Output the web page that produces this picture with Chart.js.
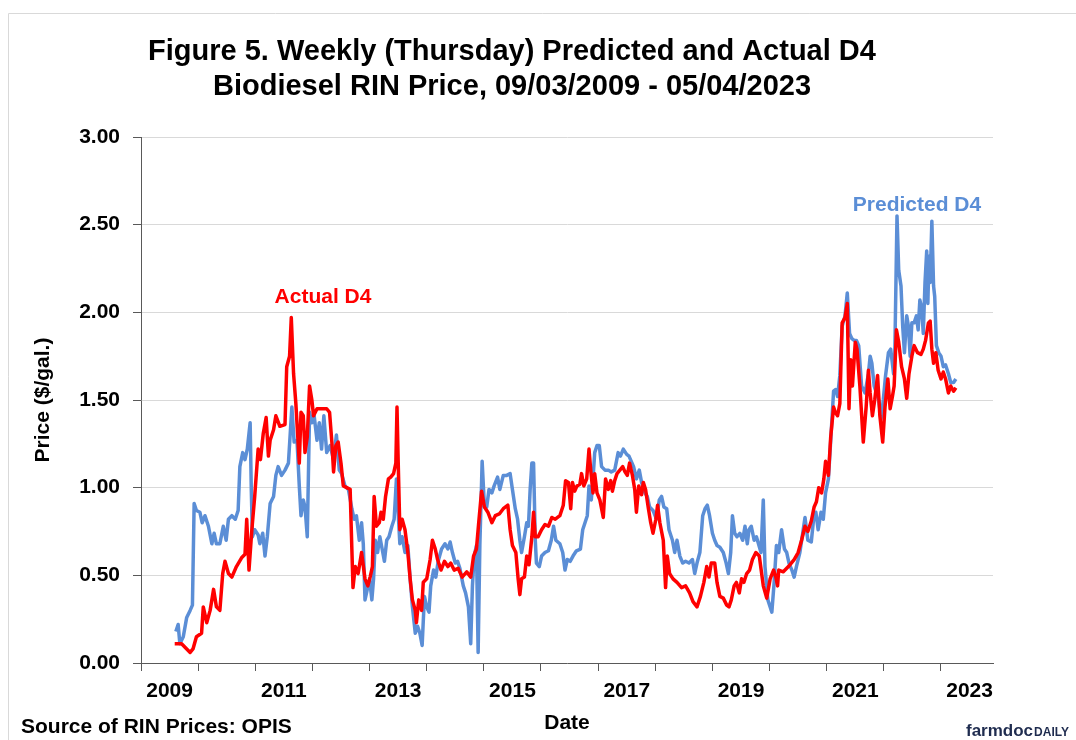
<!DOCTYPE html>
<html>
<head>
<meta charset="utf-8">
<title>D4 Biodiesel RIN Price</title>
<script src="https://cdn.jsdelivr.net/npm/chart.js@4.4.1/dist/chart.umd.min.js"></script>
<style>
    body { margin: 0; background: #ffffff; }
    canvas { display: block; }
</style>
</head>
<body>
<canvas id="rinChart" width="1076" height="740"></canvas>
<script>
// Actual D4 RIN price (weekly; x = decimal year)
const actualYears = [
    2009.67, 2009.79, 2009.85, 2009.94, 2009.99, 2010.05, 2010.14, 2010.17, 2010.23, 2010.29,
    2010.35, 2010.40, 2010.46, 2010.51, 2010.55, 2010.61, 2010.67, 2010.75, 2010.84, 2010.90,
    2010.93, 2010.97, 2011.02, 2011.07, 2011.13, 2011.17, 2011.22, 2011.27, 2011.31, 2011.34,
    2011.40, 2011.44, 2011.51, 2011.60, 2011.63, 2011.68, 2011.71, 2011.75, 2011.79, 2011.82,
    2011.85, 2011.88, 2011.92, 2011.95, 2011.99, 2012.03, 2012.07, 2012.10, 2012.16, 2012.24,
    2012.33, 2012.38, 2012.42, 2012.45, 2012.49, 2012.53, 2012.58, 2012.62, 2012.68, 2012.74,
    2012.77, 2012.79, 2012.83, 2012.88, 2012.94, 2013.00, 2013.05, 2013.09, 2013.13, 2013.16,
    2013.20, 2013.25, 2013.28, 2013.32, 2013.36, 2013.41, 2013.45, 2013.50, 2013.54, 2013.56,
    2013.58, 2013.61, 2013.65, 2013.70, 2013.75, 2013.79, 2013.83, 2013.88, 2013.90, 2013.94,
    2013.99, 2014.02, 2014.08, 2014.14, 2014.18, 2014.23, 2014.27, 2014.33, 2014.39, 2014.45,
    2014.50, 2014.56, 2014.63, 2014.70, 2014.78, 2014.85, 2014.90, 2014.95, 2014.99, 2015.04,
    2015.09, 2015.15, 2015.22, 2015.28, 2015.35, 2015.42, 2015.50, 2015.54, 2015.58, 2015.64,
    2015.68, 2015.71, 2015.74, 2015.79, 2015.83, 2015.87, 2015.92, 2015.95, 2015.98, 2016.03,
    2016.09, 2016.15, 2016.21, 2016.27, 2016.33, 2016.41, 2016.47, 2016.51, 2016.56, 2016.60,
    2016.63, 2016.67, 2016.71, 2016.76, 2016.79, 2016.83, 2016.88, 2016.92, 2016.95, 2016.99,
    2017.02, 2017.06, 2017.11, 2017.17, 2017.21, 2017.26, 2017.30, 2017.33, 2017.37, 2017.41,
    2017.46, 2017.51, 2017.55, 2017.59, 2017.63, 2017.68, 2017.72, 2017.75, 2017.79, 2017.84,
    2017.87, 2017.91, 2017.96, 2018.00, 2018.04, 2018.09, 2018.12, 2018.16, 2018.22, 2018.26,
    2018.29, 2018.33, 2018.39, 2018.46, 2018.54, 2018.61, 2018.68, 2018.74, 2018.81, 2018.87,
    2018.93, 2018.98, 2019.02, 2019.06, 2019.12, 2019.16, 2019.21, 2019.27, 2019.33, 2019.37,
    2019.41, 2019.46, 2019.50, 2019.55, 2019.59, 2019.63, 2019.68, 2019.73, 2019.78, 2019.84,
    2019.90, 2019.97, 2020.03, 2020.09, 2020.15, 2020.19, 2020.22, 2020.24, 2020.32, 2020.41,
    2020.46, 2020.51, 2020.58, 2020.64, 2020.70, 2020.75, 2020.81, 2020.86, 2020.90, 2020.94,
    2020.99, 2021.03, 2021.06, 2021.11, 2021.15, 2021.20, 2021.23, 2021.27, 2021.31, 2021.35,
    2021.40, 2021.44, 2021.47, 2021.50, 2021.53, 2021.58, 2021.61, 2021.66, 2021.72, 2021.77,
    2021.81, 2021.84, 2021.88, 2021.92, 2021.97, 2022.01, 2022.06, 2022.10, 2022.15, 2022.19,
    2022.23, 2022.26, 2022.30, 2022.34, 2022.39, 2022.44, 2022.48, 2022.52, 2022.57, 2022.61,
    2022.67, 2022.73, 2022.77, 2022.81, 2022.86, 2022.89, 2022.92, 2022.95, 2022.99, 2023.03,
    2023.08, 2023.12, 2023.16, 2023.21, 2023.25, 2023.30, 2023.34
];
const actualPrices = [
    0.11, 0.11, 0.09, 0.06, 0.08, 0.15, 0.17, 0.32, 0.23, 0.30,
    0.42, 0.32, 0.30, 0.51, 0.58, 0.51, 0.49, 0.55, 0.60, 0.62,
    0.82, 0.53, 0.76, 0.95, 1.22, 1.16, 1.31, 1.40, 1.18, 1.27,
    1.33, 1.41, 1.35, 1.36, 1.69, 1.75, 1.97, 1.65, 1.48, 1.31,
    1.14, 1.43, 1.41, 1.20, 1.29, 1.58, 1.50, 1.41, 1.45, 1.45,
    1.45, 1.43, 1.26, 1.09, 1.24, 1.26, 1.14, 1.01, 1.00, 0.99,
    0.65, 0.43, 0.55, 0.51, 0.63, 0.48, 0.44, 0.49, 0.55, 0.95,
    0.78, 0.80, 0.86, 0.82, 0.95, 1.05, 1.06, 1.08, 1.14, 1.46,
    1.16, 0.76, 0.82, 0.76, 0.63, 0.48, 0.36, 0.30, 0.23, 0.36,
    0.30, 0.46, 0.48, 0.59, 0.70, 0.65, 0.59, 0.53, 0.58, 0.55,
    0.57, 0.53, 0.54, 0.49, 0.52, 0.49, 0.61, 0.65, 0.80, 0.98,
    0.89, 0.86, 0.80, 0.84, 0.85, 0.88, 0.90, 0.76, 0.67, 0.63,
    0.48, 0.39, 0.48, 0.49, 0.61, 0.56, 0.72, 0.86, 0.72, 0.72,
    0.76, 0.79, 0.78, 0.83, 0.82, 0.84, 0.90, 1.04, 1.03, 0.88,
    1.03, 0.98, 1.01, 1.02, 1.08, 1.01, 1.05, 1.22, 1.10, 0.97,
    1.08, 0.97, 0.93, 0.83, 1.05, 0.99, 1.04, 0.98, 1.04, 1.08,
    1.10, 1.12, 1.09, 1.07, 1.14, 1.07, 0.99, 0.86, 1.01, 0.96,
    1.03, 0.99, 0.88, 0.80, 0.74, 0.82, 0.90, 0.80, 0.70, 0.43,
    0.61, 0.51, 0.48, 0.46, 0.43, 0.44, 0.40, 0.35, 0.32, 0.38,
    0.46, 0.55, 0.49, 0.57, 0.57, 0.46, 0.38, 0.37, 0.33, 0.32,
    0.36, 0.44, 0.46, 0.40, 0.48, 0.46, 0.51, 0.53, 0.59, 0.63,
    0.61, 0.44, 0.37, 0.48, 0.53, 0.49, 0.44, 0.53, 0.52, 0.55,
    0.57, 0.59, 0.63, 0.70, 0.78, 0.75, 0.81, 0.89, 0.92, 1.00,
    0.97, 1.05, 1.15, 1.07, 1.29, 1.46, 1.43, 1.41, 1.48, 1.94,
    1.97, 2.05, 1.45, 1.73, 1.58, 1.83, 1.79, 1.58, 1.26, 1.46,
    1.67, 1.54, 1.41, 1.50, 1.64, 1.41, 1.26, 1.46, 1.62, 1.45,
    1.52, 1.58, 1.90, 1.83, 1.69, 1.62, 1.51, 1.65, 1.75, 1.81,
    1.77, 1.76, 1.79, 1.84, 1.94, 1.95, 1.79, 1.71, 1.77, 1.67,
    1.62, 1.66, 1.62, 1.54, 1.58, 1.55, 1.57
];

// Predicted D4 RIN price
const predictedYears = [
    2009.69, 2009.73, 2009.76, 2009.82, 2009.88, 2009.94, 2009.98, 2010.01, 2010.05, 2010.11,
    2010.15, 2010.20, 2010.26, 2010.32, 2010.36, 2010.40, 2010.46, 2010.52, 2010.57, 2010.61,
    2010.67, 2010.73, 2010.78, 2010.81, 2010.86, 2010.90, 2010.94, 2010.99, 2011.01, 2011.03,
    2011.07, 2011.13, 2011.16, 2011.21, 2011.25, 2011.29, 2011.34, 2011.40, 2011.44, 2011.48,
    2011.54, 2011.60, 2011.66, 2011.72, 2011.76, 2011.81, 2011.85, 2011.88, 2011.92, 2011.95,
    2011.99, 2012.03, 2012.07, 2012.11, 2012.16, 2012.20, 2012.24, 2012.28, 2012.33, 2012.39,
    2012.45, 2012.50, 2012.55, 2012.59, 2012.65, 2012.71, 2012.77, 2012.81, 2012.85, 2012.90,
    2012.94, 2012.97, 2013.00, 2013.04, 2013.08, 2013.12, 2013.15, 2013.18, 2013.22, 2013.26,
    2013.30, 2013.34, 2013.38, 2013.42, 2013.47, 2013.51, 2013.55, 2013.58, 2013.61, 2013.65,
    2013.70, 2013.75, 2013.79, 2013.83, 2013.88, 2013.92, 2013.96, 2014.00, 2014.04, 2014.08,
    2014.12, 2014.15, 2014.20, 2014.24, 2014.28, 2014.34, 2014.40, 2014.45, 2014.49, 2014.53,
    2014.58, 2014.62, 2014.66, 2014.72, 2014.76, 2014.81, 2014.85, 2014.88, 2014.91, 2014.95,
    2014.98, 2015.01, 2015.05, 2015.09, 2015.13, 2015.17, 2015.22, 2015.26, 2015.32, 2015.36,
    2015.42, 2015.48, 2015.54, 2015.58, 2015.63, 2015.67, 2015.71, 2015.74, 2015.79, 2015.83,
    2015.86, 2015.89, 2015.92, 2015.95, 2015.98, 2016.00, 2016.05, 2016.09, 2016.15, 2016.21,
    2016.26, 2016.30, 2016.34, 2016.41, 2016.46, 2016.50, 2016.54, 2016.59, 2016.64, 2016.70,
    2016.77, 2016.81, 2016.85, 2016.89, 2016.92, 2016.96, 2016.99, 2017.02, 2017.06, 2017.10,
    2017.14, 2017.20, 2017.26, 2017.31, 2017.37, 2017.43, 2017.47, 2017.52, 2017.58, 2017.62,
    2017.66, 2017.70, 2017.75, 2017.80, 2017.84, 2017.90, 2017.94, 2017.98, 2018.04, 2018.10,
    2018.15, 2018.19, 2018.23, 2018.28, 2018.32, 2018.38, 2018.42, 2018.46, 2018.51, 2018.56,
    2018.61, 2018.67, 2018.73, 2018.77, 2018.81, 2018.86, 2018.91, 2018.95, 2018.99, 2019.03,
    2019.08, 2019.12, 2019.16, 2019.21, 2019.27, 2019.32, 2019.36, 2019.40, 2019.43, 2019.47,
    2019.51, 2019.56, 2019.61, 2019.65, 2019.69, 2019.72, 2019.76, 2019.81, 2019.85, 2019.93,
    2019.97, 2020.00, 2020.05, 2020.09, 2020.12, 2020.16, 2020.20, 2020.24, 2020.29, 2020.34,
    2020.38, 2020.42, 2020.47, 2020.51, 2020.55, 2020.61, 2020.66, 2020.70, 2020.75, 2020.81,
    2020.85, 2020.89, 2020.93, 2020.98, 2021.02, 2021.06, 2021.11, 2021.15, 2021.20, 2021.24,
    2021.27, 2021.31, 2021.35, 2021.40, 2021.44, 2021.48, 2021.52, 2021.56, 2021.60, 2021.64,
    2021.69, 2021.75, 2021.81, 2021.84, 2021.87, 2021.91, 2021.95, 2021.99, 2022.03, 2022.07,
    2022.11, 2022.16, 2022.20, 2022.25, 2022.27, 2022.31, 2022.34, 2022.38, 2022.41, 2022.44,
    2022.48, 2022.51, 2022.54, 2022.57, 2022.61, 2022.65, 2022.68, 2022.71, 2022.74, 2022.77,
    2022.80, 2022.83, 2022.85, 2022.87, 2022.89, 2022.92, 2022.95, 2022.97, 2023.00, 2023.04,
    2023.08, 2023.12, 2023.16, 2023.21, 2023.25, 2023.30, 2023.34
];
const predictedPrices = [
    0.18, 0.22, 0.11, 0.15, 0.26, 0.30, 0.33, 0.91, 0.87, 0.86,
    0.80, 0.84, 0.78, 0.68, 0.74, 0.68, 0.68, 0.78, 0.70, 0.82,
    0.84, 0.82, 0.87, 1.12, 1.20, 1.16, 1.22, 1.37, 0.99, 0.72,
    0.76, 0.73, 0.68, 0.74, 0.61, 0.72, 0.91, 0.95, 1.07, 1.12,
    1.07, 1.10, 1.14, 1.46, 1.26, 1.27, 1.01, 0.84, 0.93, 0.89,
    0.72, 1.43, 1.37, 1.41, 1.27, 1.37, 1.22, 1.41, 1.20, 1.24,
    1.16, 1.30, 1.10, 1.08, 1.01, 0.99, 0.88, 0.82, 0.84, 0.70,
    0.80, 0.68, 0.36, 0.42, 0.48, 0.36, 0.48, 0.70, 0.63, 0.72,
    0.65, 0.58, 0.70, 0.72, 0.78, 0.82, 1.05, 0.86, 0.68, 0.72,
    0.63, 0.67, 0.48, 0.32, 0.17, 0.21, 0.17, 0.10, 0.38, 0.32,
    0.29, 0.44, 0.53, 0.49, 0.58, 0.65, 0.68, 0.65, 0.69, 0.63,
    0.57, 0.58, 0.54, 0.44, 0.40, 0.32, 0.11, 0.44, 0.61, 0.67,
    0.06, 0.67, 1.15, 0.89, 0.89, 0.99, 0.97, 1.01, 1.06, 0.99,
    1.07, 1.07, 1.08, 0.99, 0.88, 0.82, 0.70, 0.63, 0.72, 0.80,
    0.78, 0.99, 1.14, 1.14, 0.70, 0.57, 0.55, 0.61, 0.63, 0.64,
    0.70, 0.78, 0.70, 0.68, 0.63, 0.53, 0.59, 0.58, 0.61, 0.64,
    0.65, 0.76, 0.80, 0.84, 1.01, 0.93, 1.05, 1.20, 1.24, 1.24,
    1.12, 1.10, 1.10, 1.09, 1.10, 1.20, 1.18, 1.22, 1.19, 1.18,
    1.15, 1.12, 1.05, 1.10, 1.03, 0.97, 0.95, 0.89, 0.87, 0.82,
    0.93, 0.95, 0.89, 0.88, 0.76, 0.70, 0.63, 0.70, 0.61, 0.57,
    0.58, 0.57, 0.59, 0.51, 0.57, 0.63, 0.84, 0.88, 0.90, 0.84,
    0.74, 0.70, 0.67, 0.66, 0.63, 0.57, 0.51, 0.63, 0.84, 0.74,
    0.72, 0.74, 0.70, 0.78, 0.68, 0.76, 0.78, 0.70, 0.72, 0.63,
    0.93, 0.55, 0.36, 0.32, 0.29, 0.46, 0.67, 0.63, 0.76, 0.65,
    0.63, 0.57, 0.53, 0.49, 0.55, 0.63, 0.74, 0.83, 0.70, 0.69,
    0.82, 0.86, 0.76, 0.86, 0.82, 0.97, 1.05, 1.27, 1.55, 1.56,
    1.52, 1.64, 1.92, 1.98, 2.11, 1.88, 1.85, 1.84, 1.84, 1.81,
    1.58, 1.54, 1.65, 1.75, 1.71, 1.58, 1.54, 1.50, 1.39, 1.50,
    1.64, 1.77, 1.79, 1.65, 1.73, 2.55, 2.24, 2.15, 1.92, 1.77,
    1.98, 1.92, 1.75, 1.94, 1.94, 1.98, 1.90, 2.07, 2.03, 1.88,
    2.17, 2.35, 2.05, 2.32, 2.17, 2.52, 2.15, 2.09, 1.81, 1.77,
    1.75, 1.69, 1.70, 1.65, 1.60, 1.60, 1.62
];

// x axis: one tick per 52 weeks, label every other interval
const xMin = 2009.08;
const xMax = 2023.99;
const xTickValues = [2009.08, 2010.08, 2011.08, 2012.08, 2013.08, 2014.08, 2015.08, 2016.08,
    2017.08, 2018.08, 2019.08, 2020.08, 2021.08, 2022.08, 2023.08];
const xTickLabels = ['2009', '', '2011', '', '2013', '', '2015', '', '2017', '', '2019', '',
    '2021', '', '2023'];

const titleLines = [
    'Figure 5. Weekly (Thursday) Predicted and Actual D4',
    'Biodiesel RIN Price, 09/03/2009 - 05/04/2023'
];

const FONT = '"Liberation Sans", Arial, sans-serif';
const RED = '#ff0000';
const BLUE = '#5b8ed6';
const AXIS = '#595959';

function toPoints(xs, ys) {
    return xs.map((x, i) => ({ x: x, y: ys[i] }));
}

// frame, series labels, source line and logo
const extrasPlugin = {
    id: 'extras',
    afterDraw(chart) {
        const ctx = chart.ctx;
        ctx.save();

        ctx.strokeStyle = '#d9d9d9';
        ctx.lineWidth = 1;
        ctx.beginPath();
        ctx.moveTo(8.5, 740);
        ctx.lineTo(8.5, 13.5);
        ctx.lineTo(1076, 13.5);
        ctx.stroke();

        ctx.textBaseline = 'middle';
        ctx.textAlign = 'center';
        ctx.font = 'bold 21px ' + FONT;
        ctx.fillStyle = RED;
        ctx.fillText('Actual D4', 323, 297);
        ctx.fillStyle = BLUE;
        ctx.fillText('Predicted D4', 917, 205);

        ctx.textAlign = 'left';
        ctx.fillStyle = '#000000';
        ctx.fillText('Source of RIN Prices: OPIS', 21, 727);

        ctx.textBaseline = 'alphabetic';
        ctx.fillStyle = '#1f2c4f';
        ctx.font = 'bold 17px ' + FONT;
        ctx.fillText('farmdoc', 966, 736);
        const w = ctx.measureText('farmdoc').width;
        ctx.font = 'bold 12px ' + FONT;
        ctx.fillText('DAILY', 966 + w + 1, 736);

        ctx.restore();
    }
};

function renderChart() {
    const ctx = document.getElementById('rinChart').getContext('2d');

    new Chart(ctx, {
        type: 'line',
        data: {
            datasets: [
                {
                    label: 'Actual D4',
                    data: toPoints(actualYears, actualPrices),
                    borderColor: RED,
                    borderWidth: 3.5,
                    pointRadius: 0,
                    tension: 0,
                    borderJoinStyle: 'round',
                    order: 0
                },
                {
                    label: 'Predicted D4',
                    data: toPoints(predictedYears, predictedPrices),
                    borderColor: BLUE,
                    borderWidth: 3.5,
                    pointRadius: 0,
                    tension: 0,
                    borderJoinStyle: 'round',
                    order: 1
                }
            ]
        },
        options: {
            responsive: false,
            animation: false,
            devicePixelRatio: 1,
            layout: {
                padding: { left: 31, right: 83, top: 0, bottom: 0 }
            },
            plugins: {
                legend: { display: false },
                tooltip: { enabled: false },
                title: {
                    display: true,
                    text: titleLines,
                    color: '#000000',
                    font: { family: FONT, size: 29, weight: 'bold', lineHeight: 1.2 },
                    padding: { top: 35, bottom: 32.4 }
                }
            },
            scales: {
                x: {
                    type: 'linear',
                    min: xMin,
                    max: xMax,
                    afterBuildTicks: scale => {
                        scale.ticks = xTickValues.map(v => ({ value: v }));
                    },
                    afterFit: scale => {
                        scale.height = 77;
                    },
                    ticks: {
                        autoSkip: false,
                        maxRotation: 0,
                        minRotation: 0,
                        labelOffset: 28.6,
                        padding: 8,
                        color: '#000000',
                        font: { family: FONT, size: 21, weight: 'bold' },
                        callback: (value, index) => xTickLabels[index]
                    },
                    grid: {
                        drawOnChartArea: false,
                        drawTicks: true,
                        tickLength: 8,
                        tickColor: AXIS
                    },
                    border: { color: AXIS, width: 1 },
                    title: {
                        display: true,
                        text: 'Date',
                        color: '#000000',
                        font: { family: FONT, size: 21, weight: 'bold' },
                        padding: { top: 4, bottom: 4 }
                    }
                },
                y: {
                    min: 0,
                    max: 3,
                    afterFit: scale => {
                        scale.width = 110;
                    },
                    ticks: {
                        stepSize: 0.5,
                        padding: 13,
                        color: '#000000',
                        font: { family: FONT, size: 21, weight: 'bold' },
                        callback: value => value.toFixed(2)
                    },
                    grid: {
                        color: '#d9d9d9',
                        lineWidth: 1,
                        tickLength: 8,
                        tickColor: AXIS
                    },
                    border: { color: AXIS, width: 1 },
                    title: {
                        display: true,
                        text: 'Price ($/gal.)',
                        color: '#000000',
                        font: { family: FONT, size: 21, weight: 'bold' },
                        padding: 0
                    }
                }
            }
        },
        plugins: [extrasPlugin]
    });
}

renderChart();
</script>
</body>
</html>
